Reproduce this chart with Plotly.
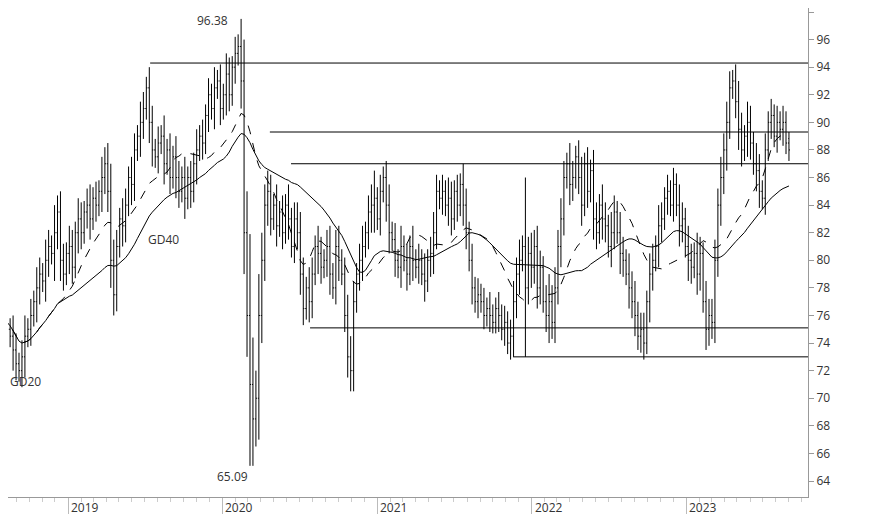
import pandas as pd
import plotly.graph_objects as go

# weekly closes, starting end of July 2018
closes = [
    76, 75.5, 75, 74.5, 73.5, 72.5, 72, 73, 74.5, 75,
    76, 77, 78, 79, 78.5, 80, 81, 80.5, 82, 83.5,
    80, 79, 80.5, 81, 79.5, 82, 83, 82, 83.5, 84,
    83, 84.5, 84, 85, 86, 87, 85, 80, 77.5, 81,
    83, 82.5, 84, 86, 85.5, 88, 89, 90, 91, 92.5,
    90, 88, 87.5, 88.5, 89, 87, 88, 86, 87.5, 86,
    85, 86, 84.5, 86, 85, 87, 88, 89, 88.5, 90.5,
    92, 91, 92.5, 93, 91, 92, 93.5, 92, 94, 95,
    95.5, 93, 82, 76, 71, 68.5, 70, 76, 80, 84,
    85, 83, 84, 82.5, 83.5, 82, 84, 83, 81, 83,
    82, 79, 76.5, 78, 77, 79, 81, 80.5, 79.5, 80,
    81, 79, 78, 81, 80, 79, 76, 73, 72, 77,
    79, 80, 81, 82, 83.5, 84, 84.5, 83, 85, 86,
    84, 82, 81.5, 80, 79.5, 81, 80, 79, 81, 80,
    79.5, 80, 79, 78.5, 80, 80.5, 82, 85, 84.5, 85,
    84, 84.5, 83, 85, 84, 85.5, 84, 82, 80, 78,
    77, 77.5, 77, 76, 76.5, 76, 75.5, 76.5, 76, 75,
    75.5, 74, 74.5, 77, 79, 80, 81, 78, 80.5, 79.5,
    81, 78, 79.5, 77, 76, 77, 75.5, 78, 81, 83,
    86, 87, 85.5, 86, 87.5, 86, 84, 87, 85, 86.5,
    83, 82, 84, 83, 82.5, 81, 82, 83.5, 82, 80.5,
    80, 79, 78, 77, 76, 74.5, 75, 74, 77, 79,
    80, 81, 82.5, 83, 84.5, 85, 84, 85.5, 84, 82.5,
    83, 81, 80, 79.5, 80.5, 79, 80.5, 77, 75, 76,
    75.5, 80, 84, 86, 88, 90, 92.5, 93, 91.5, 89.5,
    88, 89, 90, 88.5, 87, 86.5, 85, 84.5, 88, 90,
    90.5, 89, 90, 89.5, 90, 88.5, 88,
]

# wick beyond open/close each week
spreads = [
    1.2, 0.8, 1.2, 0.8, 1.5, 1.2, 0.8, 1.2, 1.5, 0.8,
    1.2, 0.8, 1.5, 1.2, 0.8, 1.5, 1.2, 0.8, 2, 1.2,
    1.5, 1.2, 0.8, 1.5, 1.2, 0.8, 1.5, 1.2, 0.8, 1.2,
    1.5, 0.8, 1.2, 0.8, 1.5, 1.2, 1.5, 2, 1.5, 1.2,
    0.8, 1.5, 1.2, 0.8, 1.5, 1.2, 0.8, 1.5, 1.2, 0.8,
    1.5, 1.2, 0.8, 1.2, 0.8, 1.5, 0.8, 1.2, 0.8, 1.5,
    1.2, 0.8, 1.5, 0.8, 1.2, 0.8, 1.5, 0.8, 1.2, 0.8,
    1.2, 0.8, 1.5, 0.8, 1.2, 0.8, 1.5, 1.2, 0.8, 1.2,
    0.88, 2, 3, 3, 5.9, 3.4, 2, 3, 2, 1.5,
    1.5, 1.2, 0.8, 1.5, 0.8, 1.2, 0.8, 1.5, 0.8, 1.2,
    1.2, 1.5, 1.2, 0.8, 1.5, 1.2, 0.8, 1.5, 1.2, 0.8,
    1.2, 1.5, 0.8, 1.2, 1.5, 0.8, 1.2, 1.5, 1.5, 1.5,
    0.8, 1.2, 1.5, 0.8, 1.2, 1.5, 2, 0.8, 1.2, 0.8,
    1.2, 1.5, 0.8, 1.2, 0.8, 1.5, 0.8, 1.2, 0.8, 1.5,
    0.8, 1.2, 0.8, 1.5, 0.8, 1.2, 1.5, 1.2, 0.8, 1.2,
    0.8, 1.5, 1.2, 0.8, 1.2, 0.8, 1.5, 1.2, 0.8, 1.2,
    0.8, 1.2, 0.8, 1, 0.8, 1.2, 0.8, 0.8, 1.2, 0.8,
    1.2, 0.8, 1.2, 1.5, 1.2, 1.5, 0.8, 5, 1.2, 1.5,
    1.2, 1.5, 1.2, 0.8, 1.2, 2, 1.2, 1.5, 1.2, 1.5,
    1.2, 0.8, 1.5, 1.2, 0.8, 1.2, 1.5, 0.8, 1.2, 0.8,
    1.5, 1.2, 0.8, 1.5, 1.2, 0.8, 1.5, 1.2, 0.8, 1.5,
    1.2, 0.8, 1.5, 1.2, 1.5, 1, 1.2, 1.2, 0.8, 1.5,
    1.2, 0.8, 1.5, 1.2, 0.8, 1.2, 0.8, 1.2, 0.8, 1.5,
    1.2, 0.8, 1.5, 1.2, 0.8, 1.5, 1.2, 0.8, 1.5, 1.2,
    1.2, 1.5, 1.2, 1.5, 1.2, 1.5, 1.2, 0.8, 1.2, 1.5,
    1.2, 0.8, 1.5, 1.2, 0.8, 1.5, 1.2, 0.8, 1.2, 0.8,
    1.2, 0.8, 1.2, 0.8, 1.2, 0.8, 0.8,
]

# support / resistance levels: (start date, price)
levels = [
    ("2019-07-14", 94.3),
    ("2020-04-22", 89.3),
    ("2020-06-11", 87.0),
    ("2020-07-26", 75.1),
    ("2021-11-18", 73.0),
]

year_labels = ["2019", "2020", "2021", "2022", "2023"]

dates = pd.date_range("2018-07-27", periods=len(closes), freq="7D")
close_s = pd.Series(closes, index=dates)
opens = close_s.shift(1).fillna(closes[0])
highs = [max(o, c) + s for o, c, s in zip(opens, closes, spreads)]
lows = [min(o, c) - s for o, c, s in zip(opens, closes, spreads)]
gd20 = close_s.rolling(20, min_periods=1).mean()
gd40 = close_s.rolling(40, min_periods=1).mean()

fig = go.Figure()
fig.add_trace(go.Ohlc(x=dates, open=opens, high=highs, low=lows, close=closes,
                      increasing=dict(line=dict(color="black", width=1)),
                      decreasing=dict(line=dict(color="black", width=1)),
                      tickwidth=0.35, showlegend=False, hoverinfo="skip"))
fig.add_trace(go.Scatter(x=dates, y=gd20, mode="lines",
                         line=dict(color="black", width=1, dash="dash"), showlegend=False))
fig.add_trace(go.Scatter(x=dates, y=gd40, mode="lines",
                         line=dict(color="black", width=1), showlegend=False))

for start, price in levels:
    fig.add_shape(type="line", x0=start, x1="2023-10-16", y0=price, y1=price,
                  line=dict(color="black", width=1))

annots = [("2019-12-08", 97.4, "96.38", "center"), ("2020-01-24", 64.3, "65.09", "center"),
          ("2019-08-15", 81.5, "GD40", "center"), ("2018-08-12", 71.2, "GD20", "left")]
for x, y, t, anc in annots:
    fig.add_annotation(x=x, y=y, text=t, showarrow=False, xanchor=anc,
                       font=dict(size=12, color="#333"))
for yr in year_labels:
    fig.add_annotation(x=f"{yr}-01-01", y=0, yref="paper", yanchor="top", xanchor="left",
                       text=yr, showarrow=False, xshift=1, yshift=0,
                       font=dict(size=12, color="#333"))

fig.update_layout(
    width=866, height=507, margin=dict(l=0, r=66, t=0, b=18, autoexpand=False),
    plot_bgcolor="white", paper_bgcolor="white",
    font=dict(family="Open Sans", size=12, color="#333"),
    xaxis=dict(range=["2018-08-12", "2023-10-16"], rangeslider=dict(visible=False),
               showgrid=False, showticklabels=False, ticks="outside", ticklen=16,
               tickvals=[f"{y}-01-01" for y in year_labels], tickcolor="#bbb",
               showline=True, linecolor="#999", automargin=False,
               minor=dict(ticks="outside", ticklen=4, dtick="M1", tickcolor="#ccc")),
    yaxis=dict(range=[62.84, 98.29], side="right", dtick=2, showgrid=False,
               ticks="outside", ticklen=5, tickcolor="#999", automargin=False,
               showline=True, linecolor="#999", zeroline=False),
)

fig.write_html("out.html")
